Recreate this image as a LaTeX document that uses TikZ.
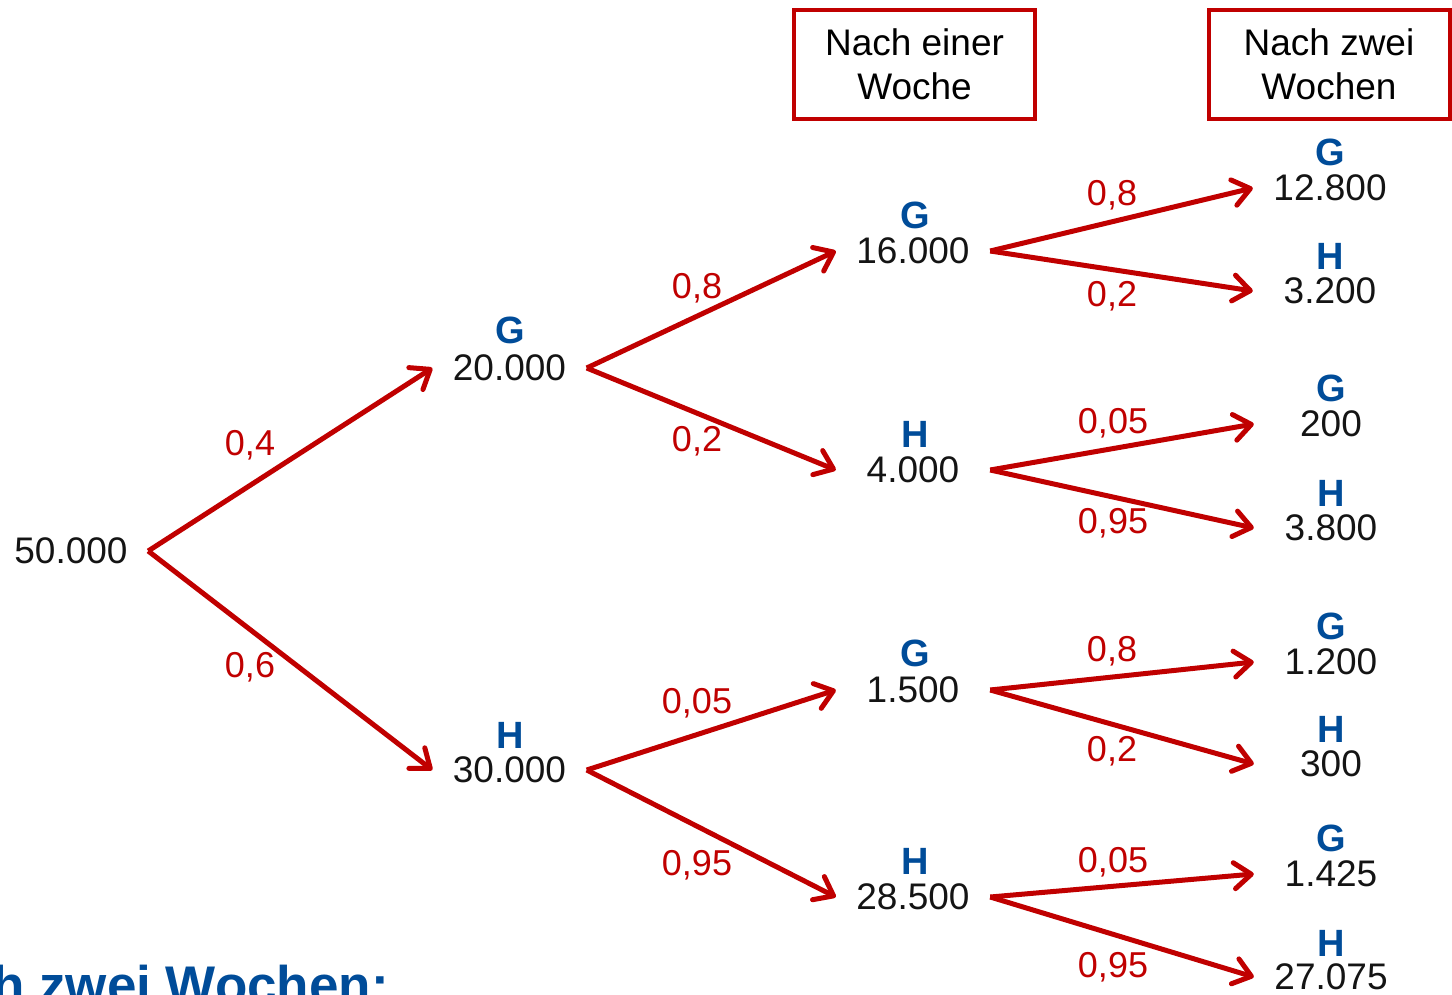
\documentclass[tikz,border=0pt]{standalone}
\usepackage{fontspec}
\setmainfont{Liberation Sans}
\usetikzlibrary{arrows.meta}
\definecolor{tred}{RGB}{192,0,0}
\definecolor{tblue}{RGB}{0,76,153}
\definecolor{tblack}{RGB}{20,20,20}
\begin{document}
\begin{tikzpicture}[x=1pt,y=-1pt,
 num/.style={minimum width=154pt,inner sep=0pt,font=\fontsize{37}{44}\selectfont,text=tblack},
 lett/.style={inner sep=0pt,font=\fontsize{38}{44}\selectfont\bfseries,text=tblue},
 prob/.style={inner sep=0pt,font=\fontsize{36}{42}\selectfont,text=tred},
 edge/.style={draw=tred,line width=5pt,-{Straight Barb[length=17pt,width=26pt,round]}},
 head/.style={draw=tred,line width=4pt,minimum width=241pt,minimum height=109pt,align=center,font=\fontsize{37}{44}\selectfont,inner sep=0pt,text=black}]
\useasboundingbox (0,0) rectangle (1452,995);
\begin{scope}
\clip (0,0) rectangle (1452,995);
% headers
\node[head] (h1) at (914.5,64.5) {Nach einer\\Woche};
\node[head] (h2) at (1329,64.5) {Nach zwei\\Wochen};
% root
\node[num] (r) at (71,551) {50.000};
% level 1
\node[num] (a) at (509.5,368) {20.000};
\node[lett] (la) at (510,330) {G};
\node[num] (b) at (509.5,770) {30.000};
\node[lett] (lb) at (510,735) {H};
% level 2
\node[num] (aa) at (913,251) {16.000};
\node[lett] (laa) at (915,215) {G};
\node[num] (ab) at (913,470) {4.000};
\node[lett] (lab) at (915,434) {H};
\node[num] (ba) at (913,690) {1.500};
\node[lett] (lba) at (915,653) {G};
\node[num] (bb) at (913,897) {28.500};
\node[lett] (lbb) at (915,861) {H};
% level 3
\node[num] (aaa) at (1330,188) {12.800};
\node[lett] (laaa) at (1330,152) {G};
\node[num] (aab) at (1330,291) {3.200};
\node[lett] (laab) at (1330,256) {H};
\node[num] (aba) at (1331,424) {200};
\node[lett] (laba) at (1331,388) {G};
\node[num] (abb) at (1331,528) {3.800};
\node[lett] (labb) at (1331,493) {H};
\node[num] (baa) at (1331,662) {1.200};
\node[lett] (lbaa) at (1331,626) {G};
\node[num] (bab) at (1331,764) {300};
\node[lett] (lbab) at (1331,729) {H};
\node[num] (bba) at (1331,874) {1.425};
\node[lett] (lbba) at (1331,838) {G};
\node[num] (bbb) at (1331,977) {27.075};
\node[lett] (lbbb) at (1331,943) {H};
% edges
\draw[edge] (r.east) -- (a.west);
\draw[edge] (r.east) -- (b.west);
\draw[edge] (a.east) -- (aa.west);
\draw[edge] (a.east) -- (ab.west);
\draw[edge] (b.east) -- (ba.west);
\draw[edge] (b.east) -- (bb.west);
\draw[edge] (aa.east) -- (aaa.west);
\draw[edge] (aa.east) -- (aab.west);
\draw[edge] (ab.east) -- (aba.west);
\draw[edge] (ab.east) -- (abb.west);
\draw[edge] (ba.east) -- (baa.west);
\draw[edge] (ba.east) -- (bab.west);
\draw[edge] (bb.east) -- (bba.west);
\draw[edge] (bb.east) -- (bbb.west);
% probabilities
\node[prob] (p1) at (250,445) {0,4};
\node[prob] (p2) at (250,667) {0,6};
\node[prob] (p3) at (697,288) {0,8};
\node[prob] (p4) at (697,441) {0,2};
\node[prob] (p5) at (697,703) {0,05};
\node[prob] (p6) at (697,865) {0,95};
\node[prob] (p7) at (1112,195) {0,8};
\node[prob] (p8) at (1112,296) {0,2};
\node[prob] (p9) at (1113,423) {0,05};
\node[prob] (p10) at (1113,523) {0,95};
\node[prob] (p11) at (1112,651) {0,8};
\node[prob] (p12) at (1112,751) {0,2};
\node[prob] (p13) at (1113,862) {0,05};
\node[prob] (p14) at (1113,967) {0,95};
% bottom caption (clipped)
\node[anchor=base east,inner sep=0pt,font=\fontsize{53}{58}\selectfont\bfseries,text=tblue] (cap) at (389,1003) {h zwei Wochen:};
\end{scope}
\end{tikzpicture}
\end{document}
